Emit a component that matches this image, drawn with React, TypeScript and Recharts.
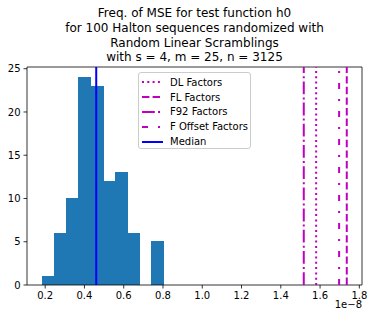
import React from "react"
import {
  ComposedChart,
  XAxis,
  YAxis,
  ReferenceArea,
  ReferenceLine,
} from "recharts"

// histogram of MSE values (x in units of 1e-8)
const binEdges = [0.185, 0.247, 0.309, 0.371, 0.433, 0.495, 0.557, 0.619, 0.681, 0.743, 0.805]
const binCounts = [1, 6, 10, 24, 23, 12, 13, 6, 0, 5]

const medianValue = 0.46
const factorNames = ["DL Factors", "FL Factors", "F92 Factors", "F Offset Factors"]
const factorValues = [1.58, 1.736, 1.517, 1.697]

const xTicks = [0.2, 0.4, 0.6, 0.8, 1.0, 1.2, 1.4, 1.6, 1.8]
const yTicks = [0, 5, 10, 15, 20, 25]

const titleLines = [
  "Freq. of MSE for test function h0",
  "for 100 Halton sequences randomized with",
  "Random Linear Scramblings",
  "with s = 4, m = 25, n = 3125",
]

const MAGENTA = "#bf00bf"
const BLUE = "#1f77b4"
const dashes = ["2 3.3", "7.4 3.2", "12.8 3.2 2 3.2", "6 10 2 10"]
const FONT = "DejaVu Sans, sans-serif"

const allX = [...binEdges, medianValue, ...factorValues]
const xMin = Math.min(...allX)
const xMax = Math.max(...allX)
const pad = (xMax - xMin) * 0.05
const xDomain = [xMin - pad, xMax + pad]
const yDomain = [0, Math.max(...binCounts) * 1.05]

const bins = binCounts.map((c, i) => ({ x1: binEdges[i], x2: binEdges[i + 1], count: c }))

const tickStyle = { fontSize: 10, fill: "#000", fontFamily: FONT }

function LegendBox() {
  const rows = [
    ...factorNames.map((n, i) => ({ name: n, color: MAGENTA, dash: dashes[i] })),
    { name: "Median", color: "#0000ff", dash: undefined },
  ]
  return (
    <div
      style={{
        position: "absolute",
        left: 138,
        top: 72,
        width: 113,
        height: 77,
        border: "1px solid #cccccc",
        borderRadius: 3,
        background: "rgba(255,255,255,0.8)",
        fontFamily: FONT,
        fontSize: 10,
        paddingTop: 2,
        boxSizing: "border-box",
      }}
    >
      {rows.map((r) => (
        <div key={r.name} style={{ height: 14.8, display: "flex", alignItems: "center" }}>
          <svg width={31} height={10} style={{ flex: "none" }}>
            <line x1={3} x2={24} y1={5} y2={5} stroke={r.color} strokeWidth={2} strokeDasharray={r.dash} />
          </svg>
          <span style={{ color: "#000", whiteSpace: "nowrap" }}>{r.name}</span>
        </div>
      ))}
    </div>
  )
}

export default function App() {
  return (
    <div style={{ position: "absolute", left: 0, top: 0, width: 373, height: 322, background: "#fff" }}>
      <div
        style={{
          position: "absolute",
          left: 27,
          top: 6,
          width: 335,
          textAlign: "center",
          fontFamily: FONT,
          fontSize: 12,
          lineHeight: "14.8px",
          color: "#000",
        }}
      >
        {titleLines.map((t) => (
          <div key={t}>{t}</div>
        ))}
      </div>
      <ComposedChart
        width={373}
        height={322}
        data={bins}
        margin={{ top: 67, right: 11, bottom: 7, left: 0 }}
      >
        <XAxis
          type="number"
          dataKey="x1"
          domain={xDomain}
          ticks={xTicks}
          tickFormatter={(v) => v.toFixed(1)}
          allowDataOverflow
          height={30}
          tickSize={3.5}
          tickMargin={3}
          tick={tickStyle}
          tickLine={{ stroke: "#000", strokeWidth: 0.8 }}
          axisLine={false}
        />
        <YAxis
          type="number"
          domain={yDomain}
          ticks={yTicks}
          allowDataOverflow
          width={27}
          tickSize={3.5}
          tickMargin={3}
          tick={tickStyle}
          tickLine={{ stroke: "#000", strokeWidth: 0.8 }}
          axisLine={false}
        />
        {bins.map((b, i) => (
          <ReferenceArea
            key={i}
            x1={b.x1}
            x2={b.x2}
            y1={0}
            y2={b.count}
            fill={BLUE}
            fillOpacity={1}
            stroke={BLUE}
            strokeOpacity={b.count > 0 ? 1 : 0}
            strokeWidth={1}
            shapeRendering="crispEdges"
            ifOverflow="hidden"
          />
        ))}
        {factorValues.map((v, i) => (
          <ReferenceLine
            key={factorNames[i]}
            x={v}
            stroke={MAGENTA}
            strokeWidth={2}
            strokeDasharray={dashes[i]}
          />
        ))}
        <ReferenceLine x={medianValue} stroke="#0000ff" strokeWidth={2} />
        <ReferenceArea
          x1={xDomain[0]}
          x2={xDomain[1]}
          y1={yDomain[0]}
          y2={yDomain[1]}
          fill="none"
          stroke="#000"
          strokeWidth={0.8}
          ifOverflow="extendDomain"
        />
      </ComposedChart>
      <LegendBox />
      <div
        style={{
          position: "absolute",
          right: 11,
          top: 299,
          fontFamily: FONT,
          fontSize: 10,
          lineHeight: "12px",
          color: "#000",
        }}
      >
        1e−8
      </div>
    </div>
  )
}
